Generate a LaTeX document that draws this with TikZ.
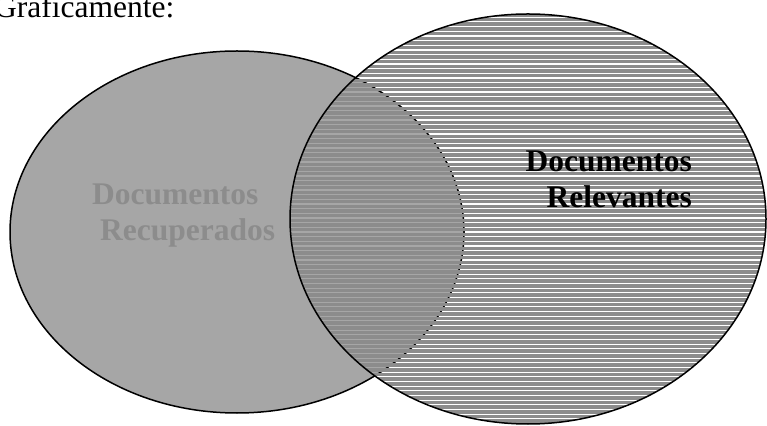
\documentclass[tikz,border=0pt]{standalone}
\usepackage{fontspec}
\setmainfont{Liberation Serif}
\usepackage{tikz}
\definecolor{grisclaro}{RGB}{166,166,166}
\definecolor{grisoscuro}{RGB}{140,140,140}
\begin{document}
\begin{tikzpicture}[x=1pt,y=1pt]
  \tikzstyle{conjunto}=[draw=black,line width=1.5pt]
  \tikzstyle{raya}=[draw=grisoscuro,line width=3.5pt]
  \tikzstyle{rotulo}=[font=\fontsize{31.5}{36}\selectfont\bfseries,inner sep=0pt]
  \useasboundingbox (0,0) rectangle (767,425);

  \node[anchor=base west,inner sep=0pt,font=\fontsize{31.5}{36}\selectfont] (titulo) at (-6,407.3) {Gráficamente:};

  % recuperados
  \fill[grisclaro] (237,193) ellipse [x radius=227,y radius=181];
  \draw[conjunto] (237,193) ellipse [x radius=227,y radius=181];
  \node[rotulo,text=grisoscuro,align=left,anchor=base west] (recuperados) at (92,184)
    {Documentos\\\hspace*{8pt}Recuperados};

  % relevantes
  \begin{scope}
    \clip (528,206) ellipse [x radius=238,y radius=205];
    \foreach \k in {0,...,88}
      \draw[raya] (288,{3.8+\k*4.67}) -- (768,{3.8+\k*4.67});
  \end{scope}
  \draw[conjunto] (528,206) ellipse [x radius=238,y radius=205];
  \node[rotulo,text=black,align=right,anchor=base east] (relevantes) at (692,217)
    {Documentos\\Relevantes};
\end{tikzpicture}
\end{document}
